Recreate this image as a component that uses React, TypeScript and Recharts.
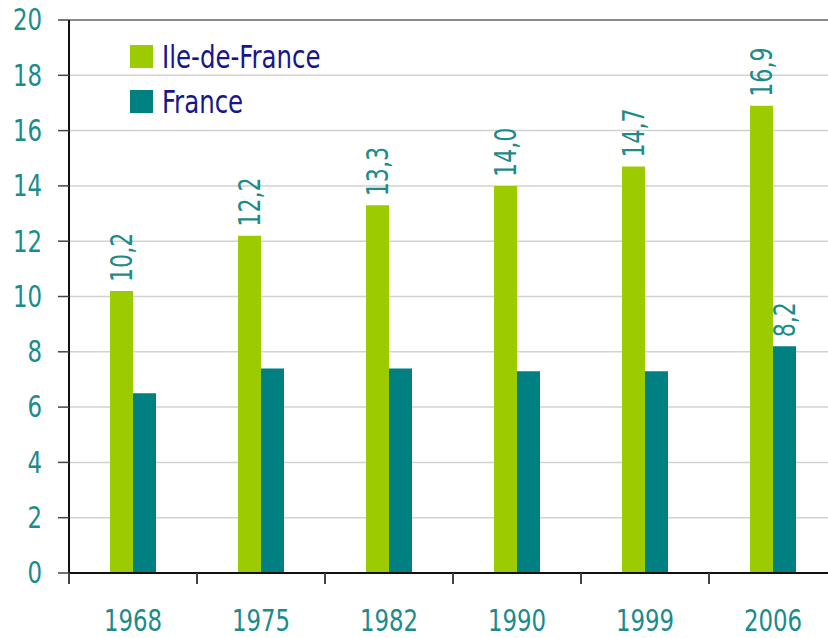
import { BarChart, Bar, XAxis, YAxis, CartesianGrid, Legend, LabelList, ReferenceLine } from 'recharts'

const years = ['1968', '1975', '1982', '1990', '1999', '2006']
const ileDeFrance = [10.2, 12.2, 13.3, 14.0, 14.7, 16.9]
const france = [6.5, 7.4, 7.4, 7.3, 7.3, 8.2]
const franceLabelled = [false, false, false, false, false, true]
const yTicks = [0, 2, 4, 6, 8, 10, 12, 14, 16, 18, 20]

const data = years.map((y, i) => ({ year: y, idf: ileDeFrance[i], fr: france[i] }))

// no narrow font installed, so condensed DejaVu squeezed a bit more
const FONT = '"DejaVu Sans Condensed", "DejaVu Sans", sans-serif'
const SQUEEZE = 0.82
const TEAL_TEXT = '#1b8b8b'
const GREEN = '#9bcb00'
const TEAL = '#008080'
const NAVY = '#16168a'

const fmt = (v: number) => v.toFixed(1).replace('.', ',')

function NarrowText({ x, y, anchor, rotate = 0, size = 31, baseline, children }: any) {
  return (
    <text
      transform={`translate(${x}, ${y}) rotate(${rotate}) scale(${SQUEEZE}, 1)`}
      textAnchor={anchor}
      dominantBaseline={baseline}
      fill={TEAL_TEXT}
      fontSize={size}
      fontFamily={FONT}
    >
      {children}
    </text>
  )
}

function YearTick(props: any) {
  const { x, y, payload } = props
  const half = payload.offset ?? 64
  return (
    <g>
      <line x1={x - half} y1={y} x2={x - half} y2={y + 11} stroke="#444" strokeWidth={2} />
      <NarrowText x={x} y={y + 58} anchor="middle">{payload.value}</NarrowText>
    </g>
  )
}

function ValueTick(props: any) {
  const { x, y, payload } = props
  return <NarrowText x={x} y={y} anchor="end" baseline="central">{payload.value}</NarrowText>
}

function VertLabel(props: any, only?: boolean[]) {
  const { x, y, width, value, index } = props
  if (only && !only[index]) return null
  return (
    <NarrowText x={x + width / 2} y={y - 9} rotate={-90} anchor="start" baseline="central" size={30}>
      {fmt(value)}
    </NarrowText>
  )
}

function LegendBox() {
  const items = [
    { name: 'Ile-de-France', color: GREEN },
    { name: 'France', color: TEAL },
  ]
  return (
    <div style={{ fontFamily: FONT }}>
      {items.map(it => (
        <div key={it.name} style={{ display: 'flex', alignItems: 'center', height: 45 }}>
          <span style={{ width: 23, height: 23, background: it.color, display: 'inline-block', marginRight: 9, flex: 'none' }} />
          <span
            style={{
              color: NAVY,
              fontSize: 32,
              lineHeight: '32px',
              display: 'inline-block',
              whiteSpace: 'nowrap',
              transform: 'scaleX(0.85)',
              transformOrigin: 'left center',
            }}
          >
            {it.name}
          </span>
        </div>
      ))}
    </div>
  )
}

export default function App() {
  return (
    <div style={{ position: 'absolute', left: 0, top: 0, width: 828, height: 638, overflow: 'hidden', background: '#fff' }}>
      <BarChart
        width={840}
        height={638}
        data={data}
        margin={{ top: 20, right: 3, bottom: 0, left: 0 }}
        barCategoryGap={41}
        barGap={0}
      >
        <CartesianGrid vertical={false} stroke="#d2d2d2" strokeWidth={1.5} />
        <ReferenceLine y={20} stroke="#8a8a8a" strokeWidth={2} />
        <XAxis
          dataKey="year"
          height={65}
          tickLine={false}
          tickSize={0}
          tickMargin={0}
          axisLine={{ stroke: '#111', strokeWidth: 2 }}
          tick={<YearTick />}
          interval={0}
        />
        <YAxis
          width={69}
          domain={[0, 20]}
          ticks={yTicks}
          interval={0}
          tickSize={11}
          tickMargin={16}
          axisLine={{ stroke: '#111', strokeWidth: 2 }}
          tickLine={{ stroke: '#444', strokeWidth: 1.5 }}
          tick={<ValueTick />}
        />
        <Legend
          layout="horizontal"
          verticalAlign="middle"
          align="center"
          wrapperStyle={{ left: 130, top: 34, width: 260 }}
          content={<LegendBox />}
        />
        <Bar dataKey="idf" name="Ile-de-France" fill={GREEN} isAnimationActive={false}>
          <LabelList dataKey="idf" content={(p: any) => VertLabel(p)} />
        </Bar>
        <Bar dataKey="fr" name="France" fill={TEAL} isAnimationActive={false}>
          <LabelList dataKey="fr" content={(p: any) => VertLabel(p, franceLabelled)} />
        </Bar>
      </BarChart>
    </div>
  )
}
